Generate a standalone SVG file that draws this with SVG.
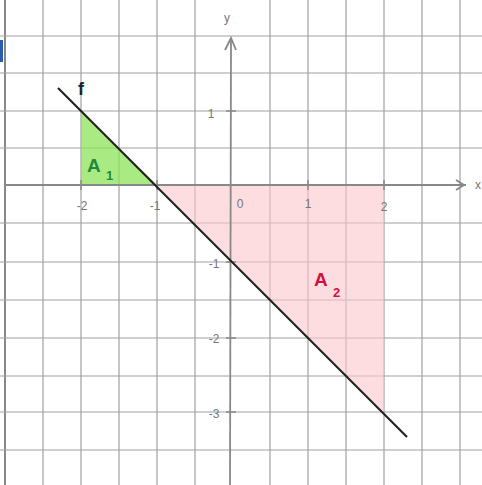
<svg xmlns="http://www.w3.org/2000/svg" width="482" height="485" viewBox="0 0 482 485">
<style>
.grid line{stroke:#a0a0a0;stroke-width:1.2}
.axis{stroke:#888;stroke-width:1.8;fill:none}
.lbl{font-family:"Liberation Sans",Arial,sans-serif;fill:#777;font-size:12px;text-anchor:middle}
</style>
<rect width="482" height="485" fill="#fff"/>
<path d="M0,40 L3,40 L3,62 L0,62 Z" fill="#2a5cb0"/>
<g id="grid" class="grid">
<line x1="5" y1="0" x2="5" y2="485" style="stroke:#888;stroke-width:2"/>
<line x1="43" y1="0" x2="43" y2="485"/>
<line x1="81" y1="0" x2="81" y2="485"/>
<line x1="119" y1="0" x2="119" y2="485"/>
<line x1="157" y1="0" x2="157" y2="485"/>
<line x1="195" y1="0" x2="195" y2="485"/>
<line x1="270" y1="0" x2="270" y2="485"/>
<line x1="308" y1="0" x2="308" y2="485"/>
<line x1="346" y1="0" x2="346" y2="485"/>
<line x1="384" y1="0" x2="384" y2="485"/>
<line x1="422" y1="0" x2="422" y2="485"/>
<line x1="460" y1="0" x2="460" y2="485"/>
<line x1="0" y1="36" x2="482" y2="36"/>
<line x1="0" y1="73" x2="482" y2="73"/>
<line x1="0" y1="111" x2="482" y2="111"/>
<line x1="0" y1="148" x2="482" y2="148"/>
<line x1="0" y1="223" x2="482" y2="223"/>
<line x1="0" y1="262" x2="482" y2="262"/>
<line x1="0" y1="300" x2="482" y2="300"/>
<line x1="0" y1="338" x2="482" y2="338"/>
<line x1="0" y1="376" x2="482" y2="376"/>
<line x1="0" y1="412" x2="482" y2="412"/>
<line x1="0" y1="450" x2="482" y2="450"/>
</g>
<g id="areaA1">
<polygon points="81,111 81,185 157,185" fill="#8ee35a" opacity="0.75"/>
<text x="87" y="172" font-family="'Liberation Sans',Arial,sans-serif" font-size="19" font-weight="bold" fill="#1f8a3a">A</text>
<text x="106" y="180" font-family="'Liberation Sans',Arial,sans-serif" font-size="13" font-weight="bold" fill="#1f8a3a">1</text>
</g>
<g id="areaA2">
<polygon points="157,185 384,185 384,412" fill="#fbc6cc" opacity="0.6"/>
<text x="314" y="286" font-family="'Liberation Sans',Arial,sans-serif" font-size="19" font-weight="bold" fill="#d2123c">A</text>
<text x="333" y="297" font-family="'Liberation Sans',Arial,sans-serif" font-size="13" font-weight="bold" fill="#d2123c">2</text>
</g>
<g id="axes">
<line class="axis" x1="5" y1="185" x2="466" y2="185"/>
<path class="axis" d="M456,180 L464,185 L456,190"/>
<line class="axis" x1="231" y1="40" x2="230" y2="485"/>
<path class="axis" d="M225,50 L231,38 L236,50"/>
<text class="lbl" x="478" y="189" font-size="14">x</text>
<text class="lbl" x="227" y="22" font-size="14">y</text>
<g stroke="#888" stroke-width="1.5">
<line x1="81" y1="180" x2="81" y2="190"/>
<line x1="157" y1="180" x2="157" y2="190"/>
<line x1="308" y1="180" x2="308" y2="190"/>
<line x1="384" y1="180" x2="384" y2="190"/>
<line x1="226" y1="111" x2="236" y2="111"/>
<line x1="226" y1="262" x2="236" y2="262"/>
<line x1="226" y1="338" x2="236" y2="338"/>
<line x1="226" y1="412" x2="236" y2="412"/>
</g>
<text class="lbl" x="82" y="210">-2</text>
<text class="lbl" x="155" y="210">-1</text>
<text class="lbl" x="240" y="208">0</text>
<text class="lbl" x="308" y="208">1</text>
<text class="lbl" x="384" y="211">2</text>
<text class="lbl" x="211" y="118">1</text>
<text class="lbl" x="214" y="268">-1</text>
<text class="lbl" x="214" y="343">-2</text>
<text class="lbl" x="214" y="418">-3</text>
</g>
<g id="line-f">
<line x1="58" y1="88" x2="407" y2="437" stroke="#222" stroke-width="2.2"/>
<text x="81" y="95" font-family="'Liberation Sans',Arial,sans-serif" font-size="18" font-weight="bold" fill="#222" text-anchor="middle">f</text>
</g>
</svg>
